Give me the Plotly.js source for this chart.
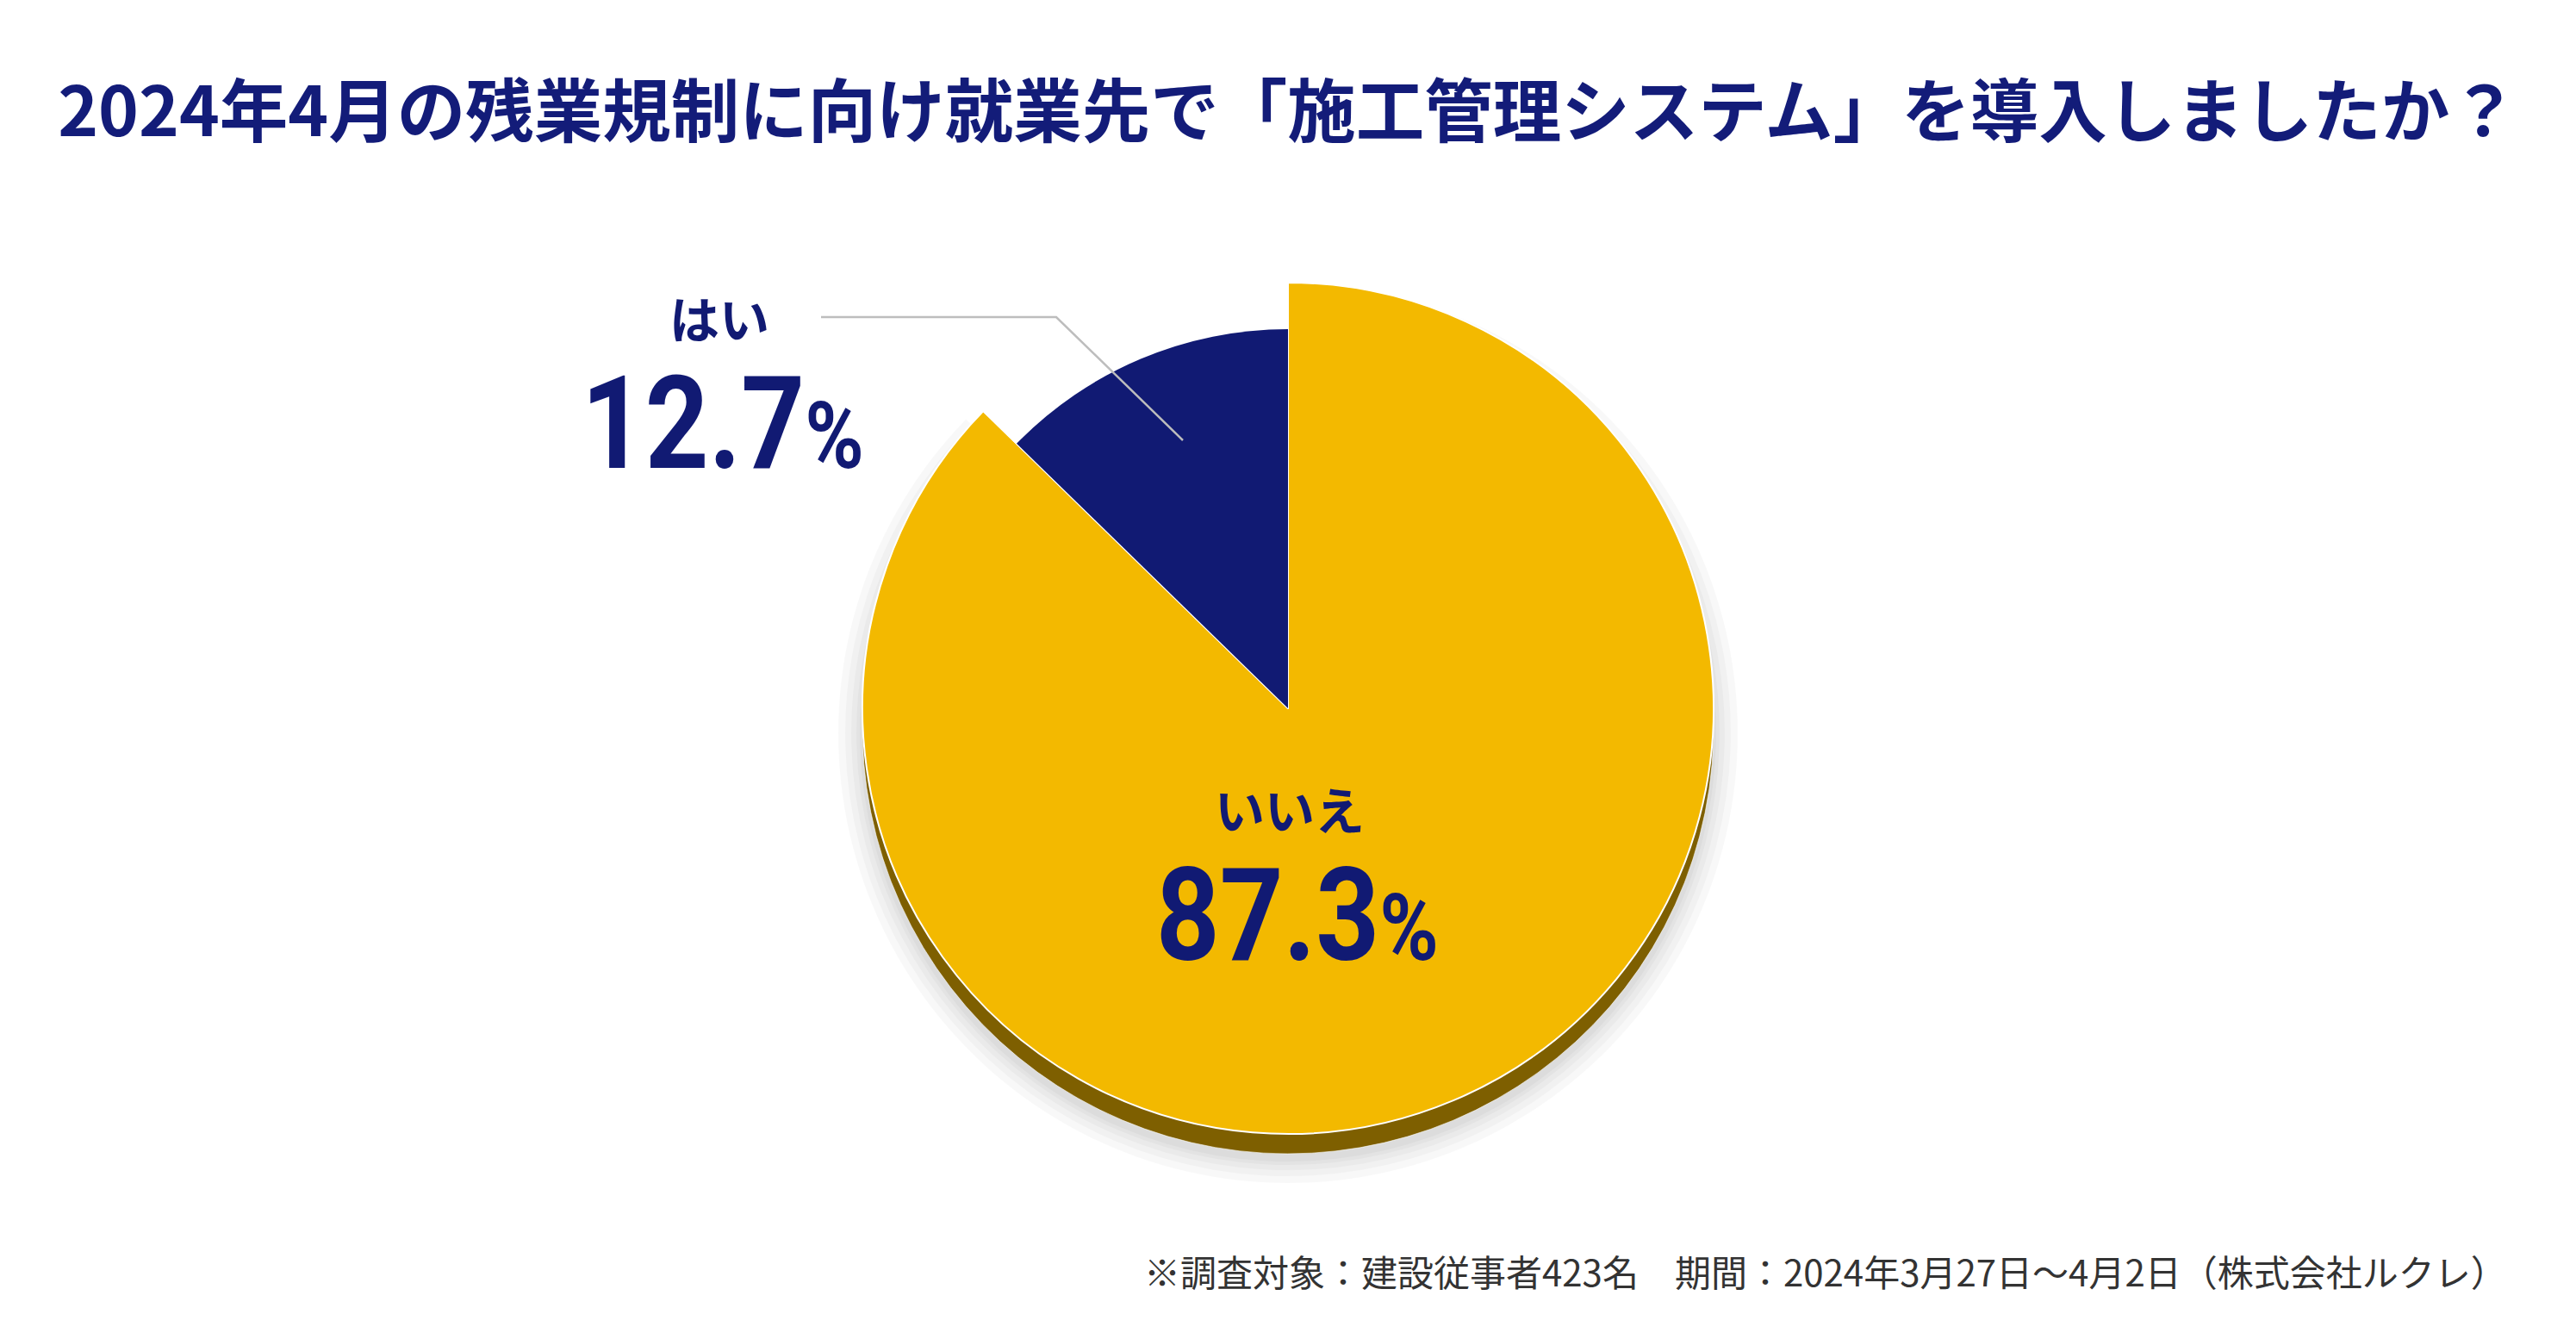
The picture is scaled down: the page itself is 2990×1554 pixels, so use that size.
<!DOCTYPE html>
<html>
<head>
<meta charset="utf-8">
<script src="https://cdn.plot.ly/plotly-3.0.1.min.js"></script>
<style>html,body{margin:0;padding:0;background:#fff;}#chart{width:2990px;height:1554px;}</style>
</head>
<body>
<div id="chart"></div>
<script>
// ---- data ----
const labels = ['はい', 'いいえ'];
const values = [12.7, 87.3];
const titleText = '2024年4月の残業規制に向け就業先で「施工管理システム」を導入しましたか？';
const noteText = '※調査対象：建設従事者423名　期間：2024年3月27日～4月2日（株式会社ルクレ）';

// ---- layout helpers (pixel -> paper) ----
const W = 2990, H = 1554;
const px = x => x / W;
const py = y => 1 - y / H;
function dom(cx, cy, r) {
  return { x: [px(cx - r), px(cx + r)], y: [py(cy + r), py(cy - r)] };
}

const NAVY = '#111a73';
const YELLOW = '#f3b900';
const BROWN = '#7e5f00';
const CLEAR = 'rgba(0,0,0,0)';
const CX = 1495, CY = 822, RY = 494, RN = 440, DEPTH = 23;

// slices drawn clockwise from 12 o'clock: "いいえ" first, so "はい" ends at 12 o'clock on the left
const order = [1, 0];
// colors given as [はい, いいえ]
function pie(domain, colors, lineColors, lineWidth) {
  return {
    type: 'pie',
    labels: order.map(i => labels[i]),
    values: order.map(i => values[i]),
    sort: false, direction: 'clockwise', rotation: 0,
    textinfo: 'none', hoverinfo: 'skip', showlegend: false,
    domain: domain,
    marker: {
      colors: order.map(i => colors[i]),
      line: { color: order.map(i => lineColors[i]), width: lineWidth }
    }
  };
}

const traces = [];
// soft shadow layers
[28, 20, 13, 7, 3].forEach(d => {
  traces.push(pie(dom(CX, CY + DEPTH + 6, RY + d), [CLEAR, 'rgba(0,0,0,0.028)'], [CLEAR, CLEAR], 0));
});
// 3D side (depth)
traces.push(pie(dom(CX, CY + DEPTH, RY), [CLEAR, BROWN], [CLEAR, 'rgba(255,255,255,0.6)'], 1));
// top face of big slice
traces.push(pie(dom(CX, CY, RY), ['#ffffff', YELLOW], ['#ffffff', '#ffffff'], 2));
// small slice
traces.push(pie(dom(CX, CY, RN), [NAVY, CLEAR], [CLEAR, CLEAR], 0));

const numFont = 'Roboto, sans-serif';
const jpFont = 'Noto Sans CJK JP, sans-serif';
function pct(v) {
  return '<b>' + v.toFixed(1) + '<span style="font-size:108px">%</span></b>';
}

const layout = {
  width: W, height: H,
  margin: { l: 0, r: 0, t: 0, b: 0 },
  paper_bgcolor: '#ffffff', plot_bgcolor: '#ffffff',
  title: {
    text: '<b>' + titleText + '</b>',
    x: 0.5, xanchor: 'center', y: py(130), yanchor: 'middle', yref: 'container',
    font: { family: jpFont, size: 79.5, color: '#131c79', weight: 900 }
  },
  shapes: [{
    type: 'path', xref: 'paper', yref: 'paper',
    path: `M ${px(953)},${py(368)} L ${px(1226)},${py(368)} L ${px(1373)},${py(511)}`,
    line: { color: '#bdbdbd', width: 2.5 }
  }],
  annotations: [
    { text: '<b>' + labels[0] + '</b>', x: px(835), y: py(368), xref: 'paper', yref: 'paper',
      xanchor: 'center', yanchor: 'middle', showarrow: false,
      font: { family: jpFont, size: 58, color: NAVY } },
    { text: pct(values[0]), x: px(839), y: py(492), xref: 'paper', yref: 'paper',
      xanchor: 'center', yanchor: 'middle', showarrow: false,
      font: { family: numFont, size: 150, color: NAVY } },
    { text: '<b>' + labels[1] + '</b>', x: px(1497), y: py(938), xref: 'paper', yref: 'paper',
      xanchor: 'center', yanchor: 'middle', showarrow: false,
      font: { family: jpFont, size: 58, color: NAVY } },
    { text: pct(values[1]), x: px(1506), y: py(1063), xref: 'paper', yref: 'paper',
      xanchor: 'center', yanchor: 'middle', showarrow: false,
      font: { family: numFont, size: 150, color: NAVY } },
    { text: noteText, x: px(2912), y: py(1474), xref: 'paper', yref: 'paper',
      xanchor: 'right', yanchor: 'middle', showarrow: false,
      font: { family: jpFont, size: 42, color: '#333333' } }
  ]
};

// horizontally condense the big percentage numbers (DIN-condensed look)
const CONDENSE = 0.86;
Plotly.newPlot('chart', traces, layout, { staticPlot: true, displayModeBar: false }).then(gd => {
  [1, 3].forEach(idx => {
    const t = gd.querySelector('.annotation[data-index="' + idx + '"] text.annotation-text');
    if (!t) return;
    const b = t.getBBox();
    const cx = b.x + b.width / 2;
    const prev = t.getAttribute('transform') || '';
    t.setAttribute('transform', (prev + ` translate(${cx},0) scale(${CONDENSE},1) translate(${-cx},0)`).trim());
  });
});
</script>
</body>
</html>
